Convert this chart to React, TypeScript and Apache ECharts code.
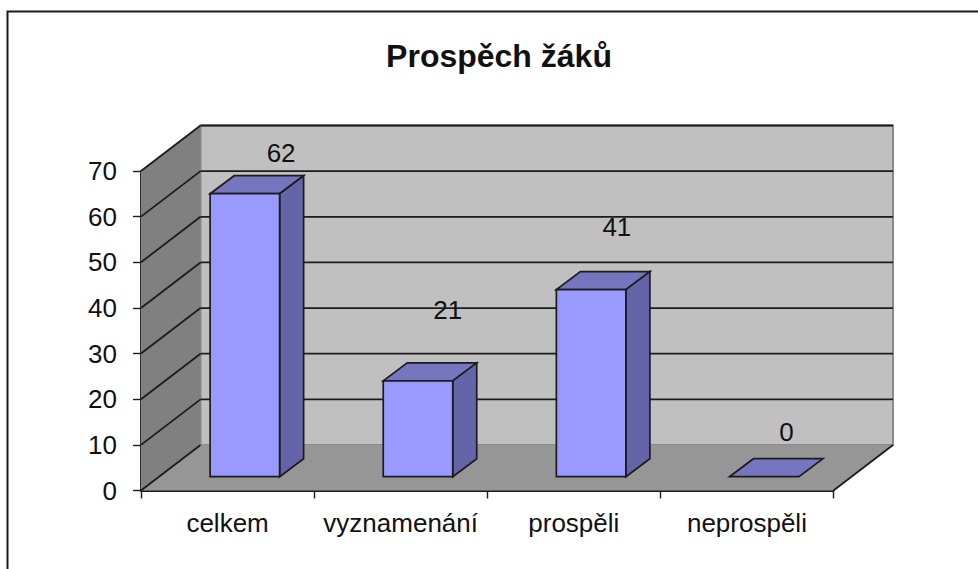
import React, { useEffect, useRef } from "react";
import * as echarts from "echarts";

const categories = ["celkem", "vyznamenání", "prospěli", "neprospěli"];
const values = [62, 21, 41, 0];
const yTicks = [0, 10, 20, 30, 40, 50, 60, 70];

// Layout of the pseudo-3D box (pixels), not data
const DEPTH_X = 59.5;
const DEPTH_Y = -45.5;
const BAR_WIDTH = 69.5;
const BAR_OFFSET_X = 17.3;
const BAR_OFFSET_Y = -13.8;
const BAR_DEPTH_X = 24;
const BAR_DEPTH_Y = -18;
const LABEL_SHIFT = [
  [71, -41],
  [64.5, -71],
  [60.5, -62.5],
  [57, -45],
];

const LINE = "#1c1c1c";
const FONT = "'Liberation Sans', Arial, sans-serif";

const poly = (points: number[][], fill: string, stroke?: string, lineWidth = 1.7) => ({
  type: "polygon",
  shape: { points },
  style: { fill, stroke: stroke ?? "none", lineWidth, lineJoin: "miter" },
});
const seg = (a: number[], b: number[], stroke: string, lineWidth = 1.8) => ({
  type: "line",
  shape: { x1: a[0], y1: a[1], x2: b[0], y2: b[1] },
  style: { stroke, lineWidth },
});

export default function App() {
  const ref = useRef<HTMLDivElement>(null);
  useEffect(() => {
    const chart = echarts.init(ref.current!, undefined, { renderer: "svg" });
    chart.setOption({
      animation: false,
      backgroundColor: "#ffffff",
      title: {
        text: "Prospěch žáků",
        left: 494,
        top: 35,
        textAlign: "center",
        textStyle: { fontFamily: FONT, fontSize: 32, fontWeight: "bold", color: "#111" },
      },
      grid: { left: 141, top: 171, width: 692.5, height: 319.5 },
      xAxis: {
        type: "category",
        data: categories,
        axisLine: { show: true, lineStyle: { color: LINE, width: 1.8 } },
        axisTick: { show: true, alignWithLabel: false, interval: 0, length: 8, lineStyle: { color: LINE, width: 1.4 } },
        axisLabel: { fontFamily: FONT, fontSize: 26, color: "#111", margin: 19, interval: 0, hideOverlap: false },
        splitLine: { show: false },
      },
      yAxis: {
        type: "value",
        min: 0,
        max: 70,
        interval: 10,
        axisLine: { show: true, lineStyle: { color: LINE, width: 1.8 } },
        axisTick: { show: true, length: 8, lineStyle: { color: LINE, width: 1.4 } },
        axisLabel: { fontFamily: FONT, fontSize: 26, color: "#111", margin: 24 },
        splitLine: { show: false },
      },
      graphic: [
        {
          type: "rect",
          shape: { x: 7.5, y: 11.5, width: 980, height: 570 },
          style: { fill: "none", stroke: "#1a1a1a", lineWidth: 2 },
          silent: true,
        },
      ],
      series: [
        {
          type: "custom",
          name: "walls",
          coordinateSystem: "cartesian2d",
          silent: true,
          z: 1,
          data: [[0, 0]],
          clip: false,
          renderItem: (params: any, api: any) => {
            const cs = params.coordSys;
            const fl = cs.x;
            const fr = cs.x + cs.width;
            const y0 = api.coord([0, 0])[1];
            const yTop = api.coord([0, 70])[1];
            const children: any[] = [
              poly(
                [[fl + DEPTH_X, yTop + DEPTH_Y], [fr + DEPTH_X, yTop + DEPTH_Y], [fr + DEPTH_X, y0 + DEPTH_Y], [fl + DEPTH_X, y0 + DEPTH_Y]],
                "#c0c0c0", "#8a8a8a", 2
              ),
              poly(
                [[fl, yTop], [fl + DEPTH_X, yTop + DEPTH_Y], [fl + DEPTH_X, y0 + DEPTH_Y], [fl, y0]],
                "#808080"
              ),
              poly(
                [[fl, y0], [fr, y0], [fr + DEPTH_X, y0 + DEPTH_Y], [fl + DEPTH_X, y0 + DEPTH_Y]],
                "#969696"
              ),
            ];
            yTicks.forEach((t) => {
              const y = api.coord([0, t])[1];
              if (t > 0) {
                children.push(seg([fl, y], [fl + DEPTH_X, y + DEPTH_Y], LINE));
                children.push(seg([fl + DEPTH_X, y + DEPTH_Y], [fr + DEPTH_X, y + DEPTH_Y], LINE));
              }
            });
            children.push(seg([fl, y0], [fl + DEPTH_X, y0 + DEPTH_Y], LINE));
            children.push(seg([fr, y0], [fr + DEPTH_X, y0 + DEPTH_Y], LINE));
            return { type: "group", children };
          },
          encode: { x: 0, y: 1 },
        },
        {
          type: "custom",
          name: "Prospěch žáků",
          coordinateSystem: "cartesian2d",
          z: 3,
          clip: false,
          data: categories.map((_, i) => [i, values[i]]),
          encode: { x: 0, y: 1 },
          renderItem: (params: any, api: any) => {
            const i = api.value(0);
            const v = api.value(1);
            const cx = api.coord([i, 0])[0];
            const y0 = api.coord([i, 0])[1] + BAR_OFFSET_Y;
            const yv = api.coord([i, v])[1] + BAR_OFFSET_Y;
            const left = cx + BAR_OFFSET_X - BAR_WIDTH / 2;
            const right = left + BAR_WIDTH;
            const dx = BAR_DEPTH_X;
            const dy = BAR_DEPTH_Y;
            const shift = LABEL_SHIFT[i];
            const children: any[] = [
              poly([[left, yv], [right, yv], [right + dx, yv + dy], [left + dx, yv + dy]], "#7676c0", LINE),
            ];
            if (v > 0) {
              children.push(poly([[right, yv], [right + dx, yv + dy], [right + dx, y0 + dy], [right, y0]], "#6464a8", LINE));
              children.push(poly([[left, yv], [right, yv], [right, y0], [left, y0]], "#9999ff", LINE));
            }
            children.push({
              type: "text",
              style: {
                text: String(v),
                x: left + shift[0],
                y: yv + shift[1],
                align: "center",
                verticalAlign: "middle",
                fill: "#111",
                font: `26px ${FONT}`,
              },
            });
            return { type: "group", children };
          },
        },
      ],
    });
    return () => chart.dispose();
  }, []);
  return <div ref={ref} style={{ position: "fixed", left: 0, top: 0, width: 978, height: 569 }} />;
}
